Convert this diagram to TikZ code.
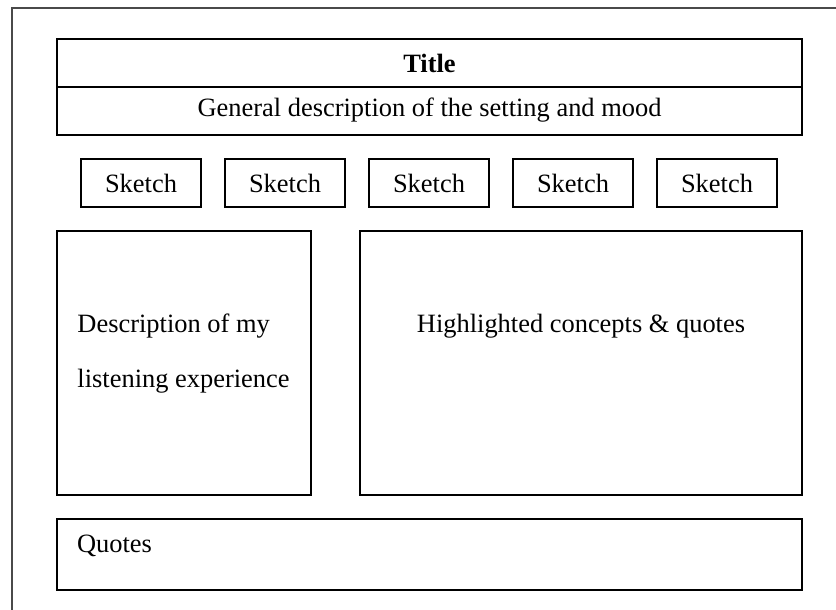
\documentclass[tikz,border=0pt]{standalone}
\usepackage{fontspec}
\setmainfont{Liberation Serif}
\usepackage{tikz}
\usetikzlibrary{positioning}
\definecolor{framegray}{HTML}{4A4A4A}

\begin{document}
\begin{tikzpicture}
                    \tikzstyle{every node}=[font=\fontsize{18.8pt}{22pt}\selectfont]
                    \tikzstyle{box} = [rectangle, draw=black, line width=1pt, inner sep=0pt]
                    \tikzstyle{rowbox} = [box, minimum width=18.625cm, minimum height=1.2cm]
                    \tikzstyle{sketchbox} = [box, minimum width=3cm, minimum height=1.2cm]
                    \tikzstyle{bigbox} = [box, minimum height=6.6cm]
                    \tikzstyle{plain} = [draw=none, inner sep=0pt]

                    \useasboundingbox (0,0) rectangle (20.9,15.25);

                    % outer page edge
                    \draw[framegray, line width=1pt] (0.3,0) -- (0.3,15.05) -- (20.9,15.05);

                    % heading
                    \node[rowbox](title) at (10.7375,13.675) {\textbf{Title}};
                    \node[rowbox](setting) at (10.7375,12.475) {};
                    \node[plain, anchor=base](settingtext) at (10.7375,12.325) {General description of the setting and mood};

                    % % sketches
                    \foreach \i in {1,...,5}
                        \node[sketchbox](sketch\i) at ({-0.075+3.6*\i},10.675) {Sketch};

                    % middle boxes
                    \node[bigbox, minimum width=6.35cm](listening) at (4.6,6.175) {};
                    \node[bigbox, minimum width=11.05cm](highlights) at (14.525,6.175) {};

                    \node[plain, anchor=base west](desc1) at (1.93,6.94) {Description of my};
                    \node[plain, anchor=base west](desc2) at (1.93,5.57) {listening experience};
                    \node[plain, anchor=base](hltext) at (14.525,6.94) {Highlighted concepts \& quotes};

                    % bottom
                    \node[rowbox, minimum height=1.775cm](quotes) at (10.7375,1.3875) {};
                    \node[plain, anchor=base west](quotestext) at (1.92,1.43) {Quotes};

            \end{tikzpicture}
\end{document}
